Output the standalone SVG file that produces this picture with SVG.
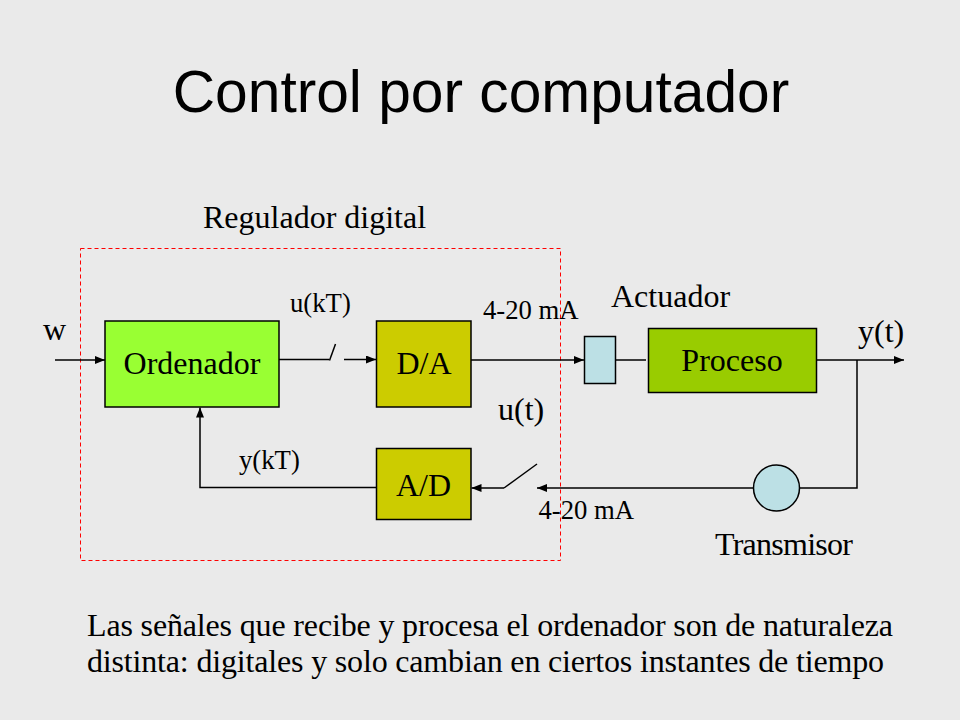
<svg xmlns="http://www.w3.org/2000/svg" width="960" height="720" viewBox="0 0 960 720">
<defs>
<marker id="ah" viewBox="0 0 10 8" refX="10" refY="4" markerWidth="10" markerHeight="8" markerUnits="userSpaceOnUse" orient="auto">
<path d="M0,0 L10,4 L0,8 z" fill="#000"/>
</marker>
<style>
.bg{fill:#eaeaea}
.box{stroke:#000;stroke-width:1.5}
.ln{stroke:#000;stroke-width:1.5;fill:none}
.arr{marker-end:url(#ah)}
.t{font-family:"Liberation Serif","Times New Roman",serif;fill:#000}
.big{font-size:32px}
.sm{font-size:26.7px}
.title{font-family:"Liberation Sans",Arial,sans-serif;font-size:58.7px;fill:#000}
</style>
</defs>
<rect class="bg" x="0" y="0" width="960" height="720"/>
<text class="title" x="481" y="112" text-anchor="middle">Control por computador</text>

<g id="regulador">
<rect x="80.5" y="248.5" width="480" height="312" fill="none" stroke="#ff0000" stroke-width="1" stroke-dasharray="4,3"/>
<text class="t big" x="203" y="228">Regulador digital</text>
</g>

<g id="connectors">
<line class="ln arr" x1="55" y1="360" x2="105" y2="360"/>
<line class="ln" x1="279" y1="359.5" x2="329" y2="359.5"/>
<line class="ln" x1="329.5" y1="360.5" x2="335.5" y2="344"/>
<line class="ln arr" x1="344" y1="359.5" x2="376" y2="359.5"/>
<line class="ln arr" x1="471" y1="360" x2="584" y2="360"/>
<line class="ln" x1="615.5" y1="360" x2="646" y2="360"/>
<line class="ln arr" x1="817" y1="360" x2="904" y2="360"/>
<polyline class="ln" points="857,360 857,488 799,488"/>
<line class="ln arr" x1="753" y1="488" x2="537" y2="488"/>
<line class="ln" x1="537" y1="464" x2="504" y2="488"/>
<line class="ln arr" x1="504" y1="488" x2="471.5" y2="488"/>
<polyline class="ln arr" points="376,487.5 200,487.5 200,407.5"/>
</g>

<g id="ordenador">
<rect class="box" x="105" y="321" width="174" height="86" fill="#99ff33"/>
<text class="t big" x="192" y="374" text-anchor="middle">Ordenador</text>
</g>
<g id="da">
<rect class="box" x="376.5" y="321" width="94.5" height="86" fill="#cccc00"/>
<text class="t big" x="424" y="374" text-anchor="middle">D/A</text>
</g>
<g id="ad">
<rect class="box" x="376.5" y="448.5" width="94.5" height="71" fill="#cccc00"/>
<text class="t big" x="423.5" y="496" text-anchor="middle">A/D</text>
</g>
<g id="actuador">
<rect class="box" x="584.5" y="336.5" width="31" height="47" fill="#bce0e5"/>
<text class="t big" x="611" y="307">Actuador</text>
</g>
<g id="proceso">
<rect class="box" x="648.5" y="328.5" width="168" height="64" fill="#99cc00"/>
<text class="t big" x="732" y="371" text-anchor="middle">Proceso</text>
</g>
<g id="transmisor">
<circle class="box" cx="776.5" cy="488" r="23" fill="#bce0e5"/>
<text class="t big" x="715" y="555" textLength="138">Transmisor</text>
</g>

<g id="labels">
<text class="t big" x="43" y="340">w</text>
<text class="t sm" x="290" y="312">u(kT)</text>
<text class="t sm" x="483" y="318.5">4-20 mA</text>
<text class="t big" x="498" y="420">u(t)</text>
<text class="t sm" x="239" y="469">y(kT)</text>
<text class="t sm" x="538.5" y="518.5">4-20 mA</text>
<text class="t big" x="858" y="342">y(t)</text>
</g>

<g id="nota">
<text class="t big" x="87" y="636" textLength="806">Las señales que recibe y procesa el ordenador son de naturaleza</text>
<text class="t big" x="87" y="672" textLength="797">distinta: digitales y solo cambian en ciertos instantes de tiempo</text>
</g>
</svg>
